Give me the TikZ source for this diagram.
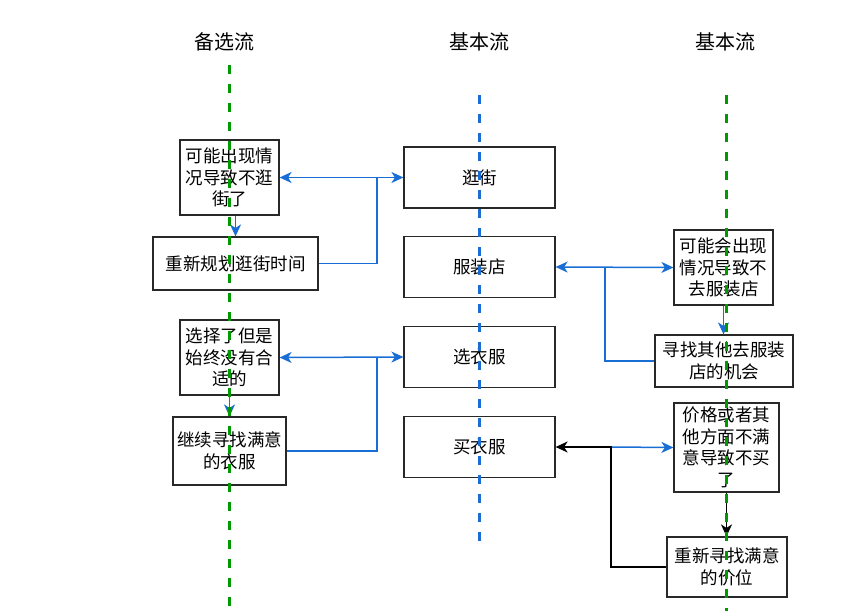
\documentclass[tikz,border=0pt]{standalone}
\usepackage{fontspec}
\setmainfont{Noto Sans CJK SC}
\usetikzlibrary{arrows.meta, positioning}
\definecolor{flowblue}{RGB}{24,110,212}
\definecolor{lanegreen}{RGB}{0,153,0}
\definecolor{boxline}{RGB}{40,40,40}

\begin{document}
\begin{tikzpicture}[x=1pt, y=-1pt,
        box/.style={draw=boxline, line width=1.2pt, rectangle, align=center, inner sep=0pt, font=\fontsize{17.5}{21.5}\selectfont},
        title/.style={font=\fontsize{20}{24}\selectfont},
        lane/.style={line width=3pt, dash pattern=on 9pt off 10pt},
        link/.style={-{Stealth[length=12pt, width=11pt, inset=3.5pt]}, line width=1.5pt, flowblue},
        twoway/.style={{Stealth[length=12pt, width=11pt, inset=3.5pt]}-{Stealth[length=12pt, width=11pt, inset=3.5pt]}, line width=1.5pt, flowblue},
        plain/.style={line width=1.5pt, flowblue}
    ]
        \useasboundingbox (0,0) rectangle (848,611);

        % Titles
        \node[title] (altflow) at (224,42) {备选流};
        \node[title] (mainflow) at (479,42) {基本流};
        \node[title] (mainflow2) at (725,42) {基本流};

        % Alternative flow
        \node[box, minimum width=99pt, minimum height=75pt] (noshop) at (229.5,177.5) {可能出现情\\况导致不逛\\街了};
        \node[box, minimum width=165pt, minimum height=53pt] (replan) at (235.5,263.5) {重新规划逛街时间};
        \node[box, minimum width=99pt, minimum height=75pt] (nofit) at (229.5,357.5) {选择了但是\\始终没有合\\适的};
        \node[box, minimum width=113pt, minimum height=68pt] (keeplook) at (229.5,451) {继续寻找满意\\的衣服};

        % Basic flow
        \node[box, minimum width=151pt, minimum height=61pt] (street) at (479.5,177.5) {逛街};
        \node[box, minimum width=151pt, minimum height=61pt] (store) at (479.5,267) {服装店};
        \node[box, minimum width=151pt, minimum height=61pt] (choose) at (479.5,357) {选衣服};
        \node[box, minimum width=151pt, minimum height=61pt] (buy) at (479.5,447) {买衣服};

        % Basic flow, exceptions
        \node[box, minimum width=99pt, minimum height=75pt] (nostore) at (723.5,267.5) {可能会出现\\情况导致不\\去服装店};
        \node[box, minimum width=138pt, minimum height=52pt] (otherstore) at (724,361) {寻找其他去服装\\店的机会};
        \node[box, minimum width=105pt, minimum height=89pt] (nobuy) at (726.5,447.5) {价格或者其\\他方面不满\\意导致不买\\了};
        \node[box, minimum width=120pt, minimum height=60pt] (reprice) at (727,567) {重新寻找满意\\的价位};

        % Junctions
        \coordinate (jstreet) at (377,177.5);
        \coordinate (jchoose) at (377,357.5);
        \coordinate (jstore) at (605,267);
        \coordinate (jbuy) at (611,447);

        % Arrows
        \draw[link] (replan.north |- noshop.south) -- (replan.north);
        \draw[link] (nofit.south) -- (keeplook.north);
        \draw[link] (nostore.south) -- (nostore.south |- otherstore.north);
        \draw[twoway] (noshop.east) -- (street.west);
        \draw[plain] (replan.east) -| (jstreet);
        \draw[twoway] (nofit.east) -- (choose.west);
        \draw[plain] (keeplook.east) -| (jchoose);
        \draw[twoway] (store.east) -- (nostore.west);
        \draw[plain] (otherstore.west) -| (jstore);
        \draw[link] (jbuy) -- (nobuy.west);
        \draw[link, black] (reprice.west) -| (jbuy) -- (buy.east);
        \draw[link, black] (nobuy.south) -- (nobuy.south |- reprice.north);

        % Lanes
        \draw[lane, lanegreen] (229,65) -- (229,611);
        \draw[lane, flowblue] (479,95) -- (479,550);
        \draw[lane, lanegreen] (726,95) -- (726,611);

    \end{tikzpicture}
\end{document}
